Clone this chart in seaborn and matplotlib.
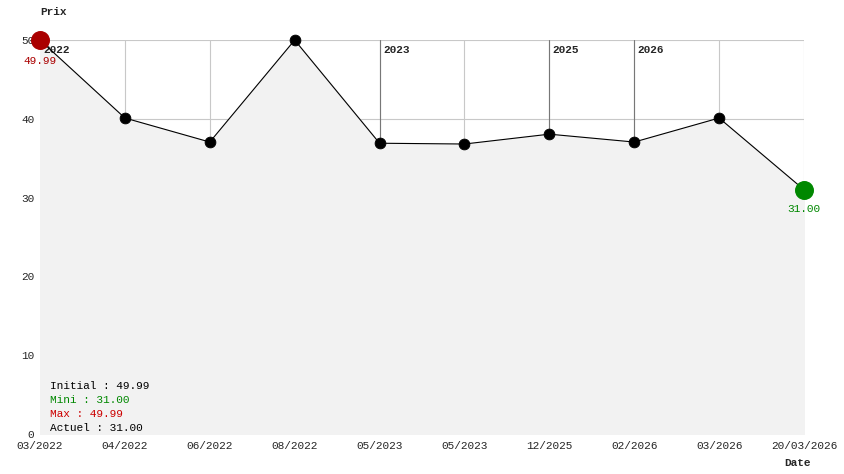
import matplotlib
matplotlib.use("Agg")
import matplotlib.pyplot as plt
import seaborn as sns
import pandas as pd

dates = ["03/2022","04/2022","06/2022","08/2022","05/2023","05/2023","12/2025","02/2026","03/2026","20/03/2026"]
prices = [49.99, 40.1, 37.05, 49.99, 36.9, 36.8, 38.05, 37.05, 40.1, 31.00]
years = [(0, "2022"), (4, "2023"), (6, "2025"), (7, "2026")]

sns.set_style("white")
plt.rcParams['font.family'] = ['Liberation Mono', 'DejaVu Sans Mono']

df = pd.DataFrame({"x": range(len(dates)), "prix": prices})
fig = plt.figure(figsize=(8.44, 4.74), dpi=100)
ax = fig.add_axes([40/844, 40/474, 764/844, 394/474])
ax.set_xlim(0, len(dates)-1)
ax.set_ylim(0, 50)
for i in range(len(dates)):
    ax.axvline(i, color="#c8c8c8", lw=0.8, zorder=0)
for v in [10, 20, 30, 40, 50]:
    ax.axhline(v, color="#c8c8c8", lw=0.8, zorder=0)
ax.fill_between(df["x"], df["prix"], 0, color="#f2f2f2", zorder=1)
for i, y in years:
    ax.plot([i, i], [50, prices[i]], color="#777777", lw=0.8, zorder=2)
    ax.text(i + 0.04, 48.3, y, fontsize=8, fontweight="bold", zorder=3)
sns.lineplot(data=df, x="x", y="prix", ax=ax, color="black", lw=0.8, zorder=4)
sns.scatterplot(data=df.iloc[1:-1], x="x", y="prix", ax=ax, color="black", s=60, zorder=5,
                edgecolor="black", clip_on=False)
ax.scatter([0], [prices[0]], s=160, color="#aa0000", zorder=6, clip_on=False)
ax.scatter([len(dates)-1], [prices[-1]], s=160, color="#008800", zorder=6, clip_on=False)
ax.text(0, prices[0]-3.0, f"{prices[0]:.2f}", color="#aa0000", fontsize=8, ha="center", zorder=7)
ax.text(len(dates)-1, prices[-1]-2.8, f"{prices[-1]:.2f}", color="#008800", fontsize=8, ha="center")

ax.set_xticks(range(len(dates)))
ax.set_xticklabels(dates, fontsize=8)
ax.set_yticks([0, 10, 20, 30, 40, 50])
ax.tick_params(axis="y", labelsize=8, length=0, pad=4)
ax.tick_params(axis="x", length=0, pad=5)
for s in ax.spines.values():
    s.set_visible(False)
ax.set_xlabel(""); ax.set_ylabel("")
fig.text(40/844, 1-12/474, "Prix", fontsize=8, fontweight="bold", va="center")
fig.text(784/844, 1-463/474, "Date", fontsize=8, fontweight="bold", va="center")

info = [("Initial : 49.99", "black"), ("Mini : 31.00", "#008800"), ("Max : 49.99", "#cc0000"), ("Actuel : 31.00", "black")]
for k, (t, c) in enumerate(info):
    fig.text(50/844, 1-(386+14*k)/474, t, color=c, fontsize=8, va="center")

fig.savefig("out.png", dpi=100)
